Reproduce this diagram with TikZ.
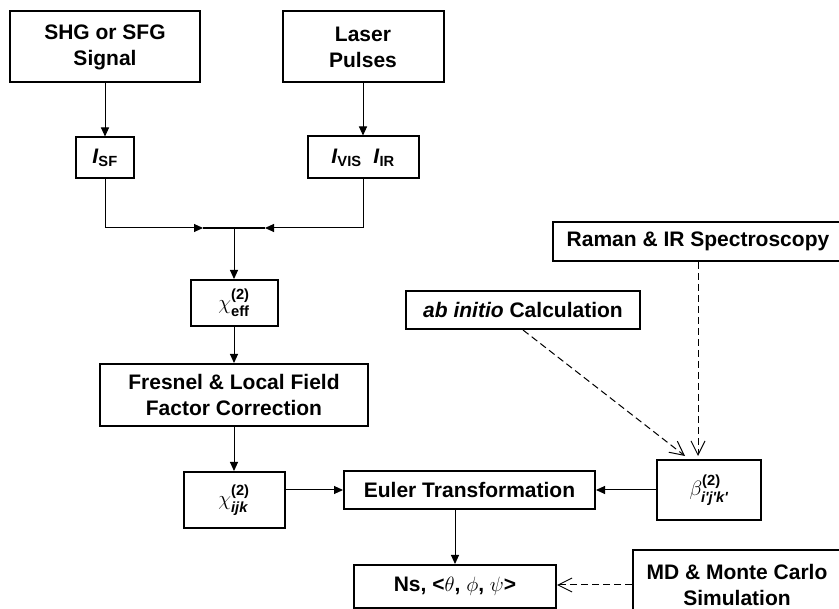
\documentclass[tikz,border=0pt]{standalone}
\usepackage{amsmath}
\usepackage{fontspec}
\setmainfont{Liberation Sans}
\usetikzlibrary{arrows.meta,positioning}
\tikzset{
  box/.style={draw,line width=2pt,align=center,inner sep=2pt,font=\fontsize{21}{26}\selectfont\bfseries},
  ar/.style={-{Triangle[length=9pt,width=8pt]},line width=1pt},
  dar/.style={-{Straight Barb[length=14pt,width=14pt]},line width=1pt,dash pattern=on 7pt off 4pt},
}

\begin{document}
\begin{tikzpicture}[x=1pt,y=-1pt]
\useasboundingbox (0,0) rectangle (839,609);
\node[box,minimum width=190pt,minimum height=71pt] (sig) at (105,47) {SHG or SFG\\Signal};
\node[box,minimum width=161pt,minimum height=71pt] (laser) at (363,47) {Laser\\Pulses};
\node[box,minimum width=58pt,minimum height=41pt,below=53pt of sig] (isf) {\textit{I}$_{\text{SF}}$};
\node[box,minimum width=111pt,minimum height=42pt,below=52pt of laser] (ivis) {\textit{I}$_{\text{VIS}}$\ \ \textit{I}$_{\text{IR}}$};
\coordinate (jn) at (234,228);
\node[box,minimum width=87pt,minimum height=46pt,below=51pt of jn] (chieff) {$\chi^{\text{(2)}}_{\text{eff}}$};
\node[box,minimum width=268pt,minimum height=62pt,below=36pt of chieff] (fresnel) {Fresnel \& Local Field\\Factor Correction};
\node[box,minimum width=101pt,minimum height=56pt,below=44pt of fresnel] (chiijk) {$\chi^{\text{(2)}}_{\textit{ijk}}$};
\node[box,minimum width=251pt,minimum height=38pt] (euler) at (469.5,490) {Euler Transformation};
\node[box,minimum width=104pt,minimum height=60pt,right=60pt of euler] (beta) {$\beta^{\text{(2)}}_{\textit{i\textquotesingle j\textquotesingle k\textquotesingle}}$};
\node[box,minimum width=202pt,minimum height=43pt] (ns) at (455,586.5) {Ns, <$\theta$, $\phi$, $\psi$>};
\node[box,minimum width=208pt,minimum height=70pt] (md) at (737,585) {MD \& Monte Carlo\\Simulation};
\node[box,minimum width=234pt,minimum height=38pt] (abin) at (523,310) {\textit{ab initio} Calculation};
\node[box,minimum width=290pt,minimum height=39pt] (raman) at (698,241.5) {Raman \& IR Spectroscopy};
\draw[ar] (sig) -- (isf);
\draw[ar] (laser) -- (ivis);
\draw[ar] (isf.south) |- ([xshift=-31pt]jn);
\draw[ar] (ivis.south) |- ([xshift=31pt]jn);
\draw[line width=1.6pt] ([xshift=-31pt]jn) -- ([xshift=31pt]jn);
\draw[ar] (jn) -- (chieff);
\draw[ar] (chieff) -- (fresnel);
\draw[ar] (fresnel) -- (chiijk);
\draw[ar] (chiijk.east |- euler.west) -- (euler.west);
\draw[ar] (beta) -- (euler);
\draw[ar] (euler.south -| ns) -- (ns);
\draw[dar] (abin.south) -- ([xshift=-24pt,yshift=3pt]beta.north);
\draw[dar] (raman.south) -- ([yshift=3pt]raman.south |- beta.north);
\draw[dar] (md.west) -- (md.west -| ns.east);
\end{tikzpicture}
\end{document}
